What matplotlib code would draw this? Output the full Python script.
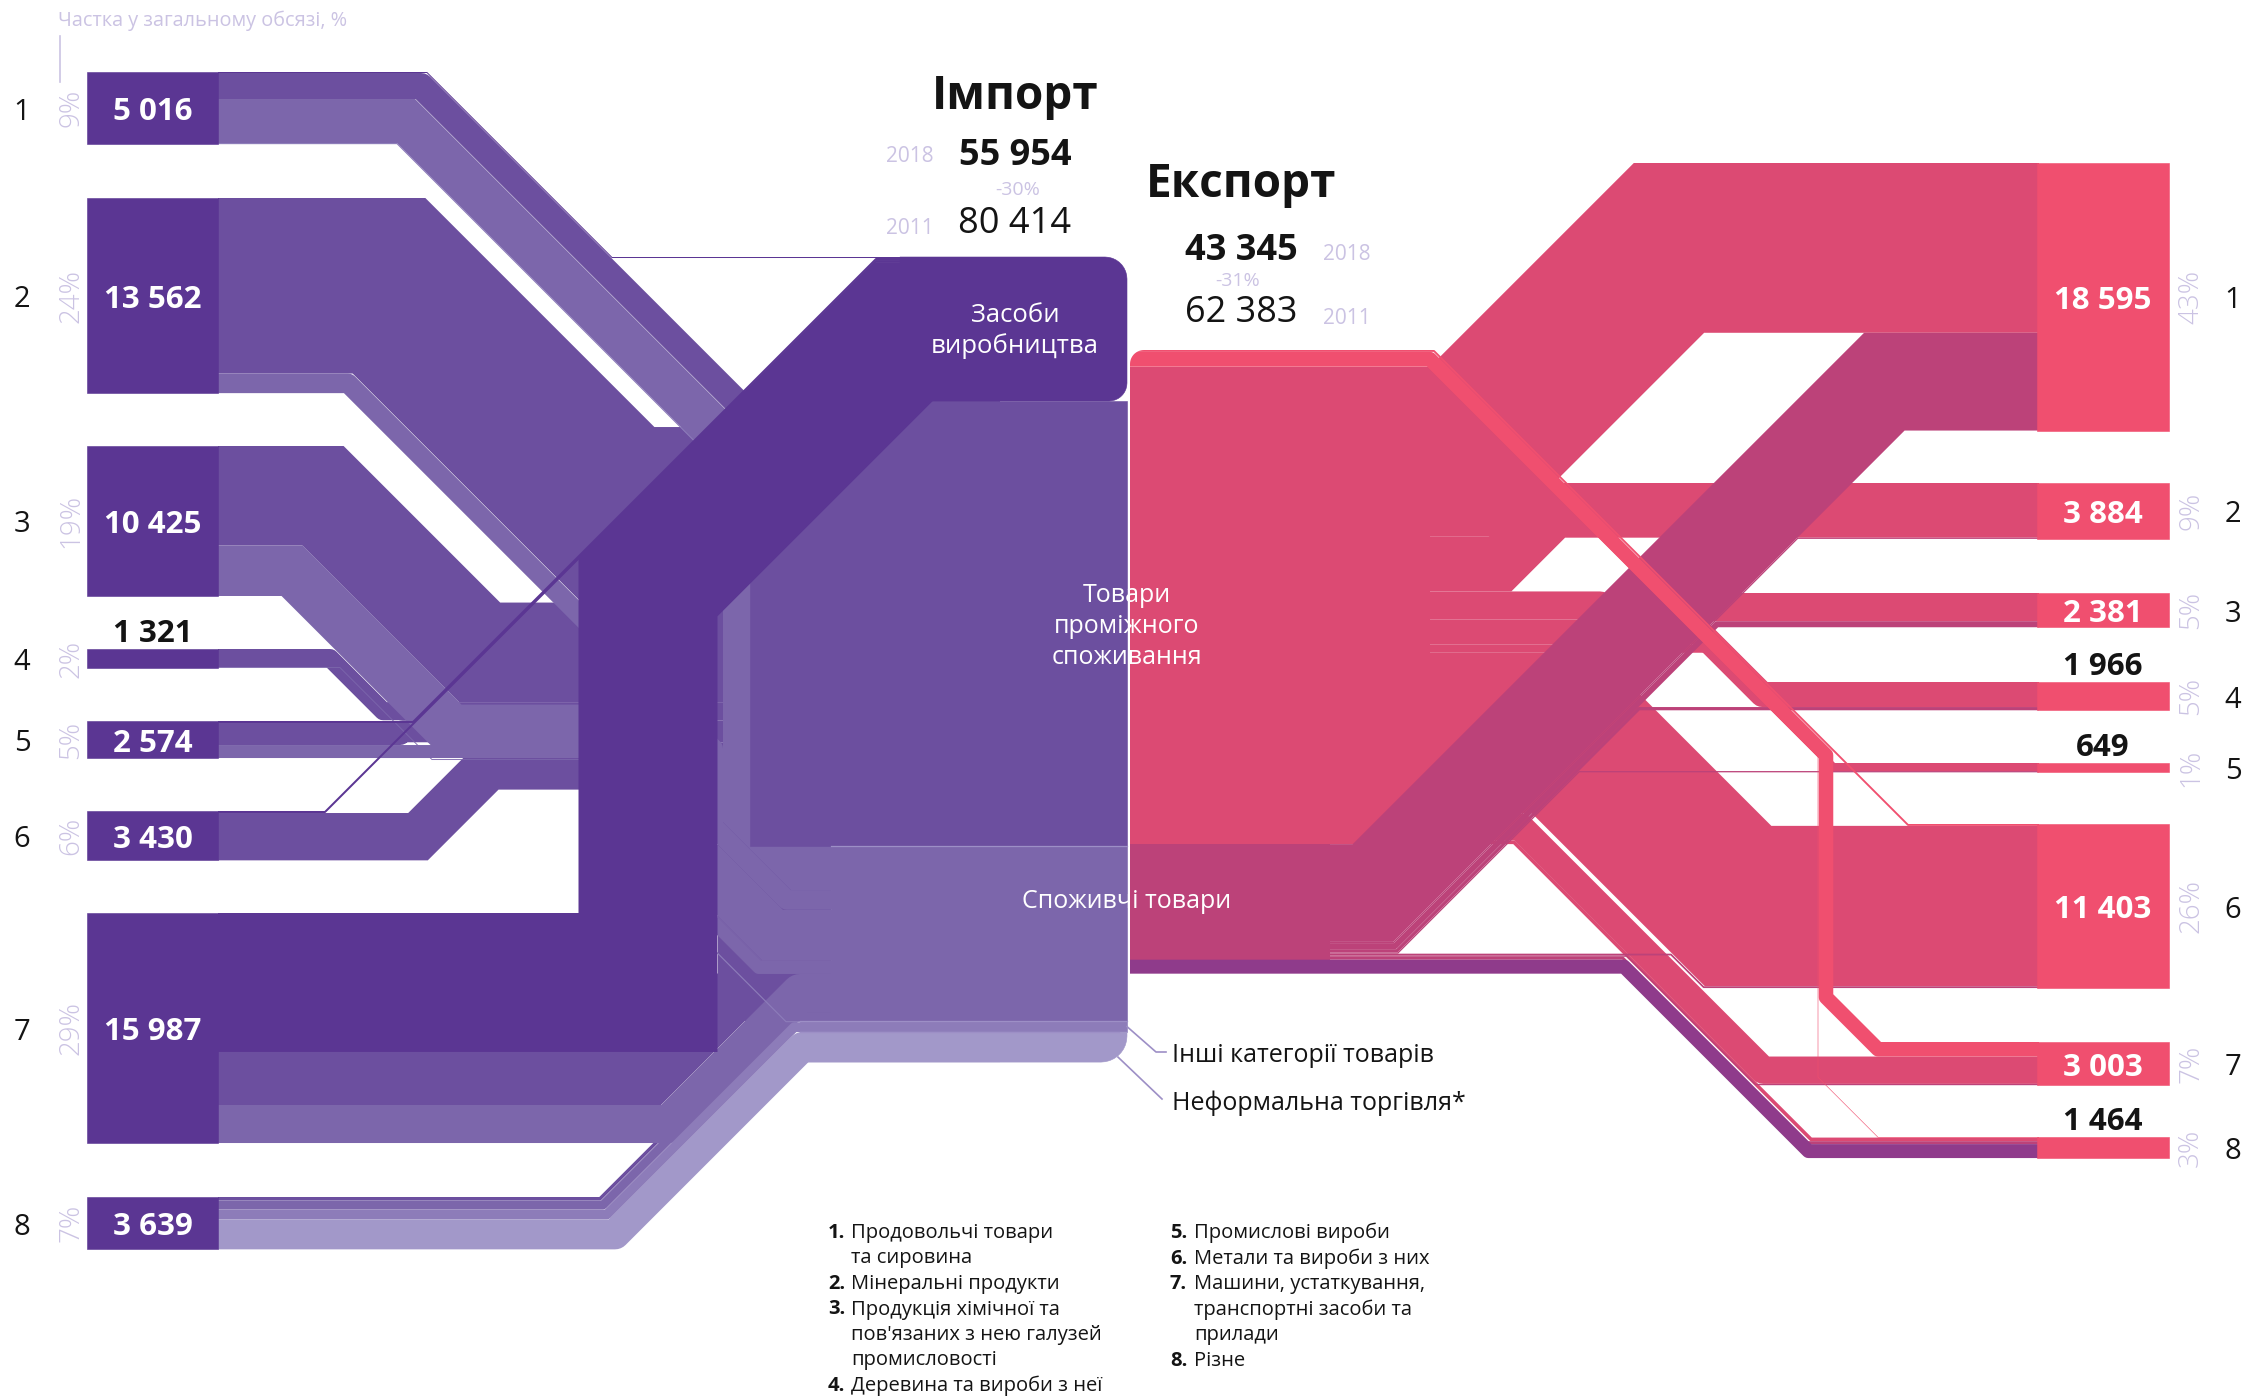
import numpy as np
import matplotlib
matplotlib.use('Agg')
import matplotlib.pyplot as plt
from matplotlib.patches import Polygon

plt.rcParams['font.family'] = ['Open Sans', 'DejaVu Sans']

# ---------------- data ----------------
categories = ['1', '2', '3', '4', '5', '6', '7', '8']
legend_items = [
    ('1.', ['Продовольчі товари', 'та сировина']),
    ('2.', ['Мінеральні продукти']),
    ('3.', ['Продукція хімічної та', "пов'язаних з нею галузей", 'промисловості']),
    ('4.', ['Деревина та вироби з неї']),
    ('5.', ['Промислові вироби']),
    ('6.', ['Метали та вироби з них']),
    ('7.', ['Машини, устаткування,', 'транспортні засоби та', 'прилади']),
    ('8.', ['Різне']),
]
group_labels = ['Засоби\nвиробництва', 'Товари\nпроміжного\nспоживання', 'Споживчі товари',
                'Інші категорії товарів', 'Неформальна торгівля*']

import_totals = [5016, 13562, 10425, 1321, 2574, 3430, 15987, 3639]
export_totals = [18595, 3884, 2381, 1966, 649, 11403, 3003, 1464]

# import: category -> BEC group
imp_capital      = [70, 0, 0, 0, 140, 140, 9660, 0]
imp_intermediate = [1807, 12200, 6920, 1260, 1530, 3290, 3684, 240]
imp_consumer     = [3058, 1362, 3505, 61, 904, 0, 2643, 630]
imp_other        = [81, 0, 0, 0, 0, 0, 0, 684]
imp_informal     = [0, 0, 0, 0, 0, 0, 0, 2085]

# export: BEC group -> category
exp_capital      = [0, 0, 0, 0, 0, 130, 1010, 40]
exp_intermediate = [11800, 3800, 1961, 1740, 560, 11150, 1900, 250]
exp_consumer     = [6795, 84, 420, 226, 89, 123, 93, 204]
exp_other        = [0, 0, 0, 0, 0, 0, 0, 970]

import_2018, import_2011 = 55954, 80414
export_2018, export_2011 = 43345, 62383
year_labels = ['2018', '2011']

# ---------------- layout / style ----------------
W, H = 2266, 1396
K = 1 / 69.5                      # px per unit
LB0, LB1 = 87, 218                # left bars
RB0, RB1 = 2037, 2169             # right bars
left_tops = [72, 198, 446, 649, 721, 811, 913, 1197]
right_tops = [163, 483, 593, 682, 763, 824, 1042, 1137]
IMP_TOP, EXP_TOP = 257, 350
NODE_R, EXP_X0, IMP_END = 1127, 1130, 1000
DY = 4                            # text vertical nudge

imp_cols = ['#5b3693', '#6c4f9f', '#7c66ab', '#8d7cb9', '#a298c9']
exp_cols = ['#f04f6f', '#dc4a73', '#bc4279', '#8f3b8b']
BAR_L, BAR_R = '#5b3693', '#f04f6f'
LAV = '#cbc3e3'
INK = '#141414'

fig = plt.figure(figsize=(W / 100, H / 100), dpi=100)
ax = fig.add_axes([0, 0, 1, 1])
ax.set_xlim(0, W)
ax.set_ylim(H, 0)
ax.axis('off')


def build_route(x0, y0, x1, y1, ops):
    pts = [(x0, y0)]
    x, y = x0, y0
    for op in ops:
        k = op[0]
        if k == 'h':
            x = op[1]
        elif k == 'd':
            s = np.sign(y1 - y)
            y = y + s * abs(op[1] - x)
            x = op[1]
        elif k == 'v':
            s = np.sign(y1 - y)
            y = y1 - s * op[1]
        elif k == 'dt':
            x = x + abs(y1 - y)
            y = y1
        pts.append((x, y))
    pts.append((x1, y1))
    out = [pts[0]]
    for p in pts[1:]:
        if abs(p[0] - out[-1][0]) > 1e-6 or abs(p[1] - out[-1][1]) > 1e-6:
            out.append(p)
    return out


def px_to_pt(w):
    # width in data units -> line width in points (data units are pixels here)
    p0 = ax.transData.transform((0, 0))
    p1 = ax.transData.transform((0, w))
    return abs(p1[1] - p0[1]) * 72 / fig.dpi


def draw_flow(pts, w, color, z):
    if w <= 0:
        return
    xs = [p[0] for p in pts]
    ys = [p[1] for p in pts]
    ax.plot(xs, ys, color=color, lw=px_to_pt(w), solid_capstyle='butt',
            solid_joinstyle='round' if w < 40 else 'miter', zorder=z)


def rrect(x0, y0, x1, y1, rtl=0, rtr=0, rbr=0, rbl=0, n=10):
    pts = []

    def arc(cx, cy, r, a0, a1):
        for a in np.linspace(np.radians(a0), np.radians(a1), n):
            pts.append((cx + r * np.cos(a), cy + r * np.sin(a)))
    if rtl: arc(x0 + rtl, y0 + rtl, rtl, 180, 270)
    else: pts.append((x0, y0))
    if rtr: arc(x1 - rtr, y0 + rtr, rtr, 270, 360)
    else: pts.append((x1, y0))
    if rbr: arc(x1 - rbr, y1 - rbr, rbr, 0, 90)
    else: pts.append((x1, y1))
    if rbl: arc(x0 + rbl, y1 - rbl, rbl, 90, 180)
    else: pts.append((x0, y1))
    return np.array(pts)


def block(x0, y0, x1, y1, color, z, **r):
    ax.add_patch(Polygon(rrect(x0, y0, x1, y1, **r), closed=True, fc=color, ec=color, lw=0.4, zorder=z))


# ================= IMPORT =================
imp = np.array([imp_capital, imp_intermediate, imp_consumer, imp_other, imp_informal], float)
ng = imp.shape[0]
src = np.zeros_like(imp)
for c in range(8):
    y = left_tops[c]
    for g in range(ng):
        src[g, c] = y
        y += imp[g, c] * K
tgt = np.zeros_like(imp)
gtop, gbot = [], []
y = IMP_TOP
for g in range(ng):
    gtop.append(y)
    for c in range(8):
        tgt[g, c] = y
        y += imp[g, c] * K
    gbot.append(y)

imp_routes = {
    (0, 0): [('h', 427), ('dt',)],
    (0, 4): [('h', 413), ('dt',)],
    (0, 5): [('h', 325), ('dt',)],
    (0, 6): [('h', 648), ('v', 256), ('dt',)],
    (1, 0): [('h', 421), ('dt',)],
    (1, 1): [('h', 389), ('dt',)],
    (1, 2): [('h', 323), ('dt',)],
    (1, 3): [('h', 330), ('dt',)],
    (1, 4): [('h', 400), ('dt',)],
    (1, 5): [('h', 418), ('dt',)],
    (1, 6): [('h', 650), ('d', 745), ('v', 40), ('dt',)],
    (1, 7): [('h', 600), ('dt',)],
    (2, 6): [('h', 669), ('dt',)],
    (2, 7): [('h', 603), ('dt',)],
    (3, 0): [('h', 397), ('d', 706), ('v', 80), ('dt',)],
    (3, 7): [('h', 607), ('dt',)],
    (4, 7): [('h', 615), ('dt',)],
}
# consumer bundle descending through a vertical strip
approach = {0: [('h', 406), ('d', None)], 1: [('h', 348), ('d', None)],
            2: [('h', 292), ('d', 451), ('h', None)], 3: [('h', 340), ('d', 432), ('h', None)],
            4: [('h', None)]}
xv, b = 745.0, None
XE0 = 800.0
prev_w = None
for c in range(5):
    w = imp[2, c] * K
    cc = tgt[2, c] + w / 2
    if c == 0:
        b = cc - XE0
    else:
        xv -= (prev_w + w) / 2
        b += (prev_w + w) / 2 * np.sqrt(2)
    d2 = (cc - b) - xv
    ops = [(o[0], xv if o[1] is None else o[1]) for o in approach[c]]
    ops += [('v', d2), ('dt',)]
    imp_routes[(2, c)] = ops
    prev_w = w

# body of the node where the bundles meet (behind all flows)
ax.add_patch(Polygon(rrect(718, gtop[2] - 60, 831, gbot[2]), closed=True,
                     fc=imp_cols[1], ec='none', zorder=0.5))

zmap = {0: 6, 1: 1, 2: 2, 3: 2.5, 4: 2.5}
for (g, c), ops in imp_routes.items():
    w = imp[g, c] * K
    if w <= 0:
        continue
    y0 = src[g, c] + w / 2
    y1 = tgt[g, c] + w / 2
    pts = build_route(LB1, y0, IMP_END, y1, ops)
    draw_flow(pts, w, imp_cols[g], zmap[g])

# group blocks of the import node
block(750, gtop[1], NODE_R, gbot[1], imp_cols[1], 3)
block(831, gtop[2], NODE_R, gbot[2], imp_cols[2], 3)
block(800, gtop[3], NODE_R, gbot[3], imp_cols[3], 3)
block(800, gtop[4], NODE_R, gbot[4], imp_cols[4], 3, rbr=26)
block(900, gtop[0], NODE_R, gbot[0], imp_cols[0], 6.5, rtr=22, rbr=18)
for g in (2, 3, 4):
    ax.plot([831 if g == 2 else 800, NODE_R - (8 if g == 4 else 0)], [gtop[g], gtop[g]],
            color='#9d8fc6', lw=0.9, zorder=3.2)

# left bars and labels
imp_total = sum(import_totals)
for c in range(8):
    hgt = import_totals[c] * K
    top = left_tops[c]
    block(LB0, top, LB1, top + hgt, BAR_L, 7)
    lab = f"{import_totals[c]:,}".replace(',', ' ')
    if hgt < 30:
        ax.text((LB0 + LB1) / 2, top - 19 + DY, lab, ha='center', va='center', fontsize=22.5,
                fontweight='bold', color=INK, zorder=8)
    else:
        ax.text((LB0 + LB1) / 2, top + hgt / 2 + DY, lab, ha='center', va='center', fontsize=22.5,
                fontweight='bold', color='white', zorder=8)
    ax.text(22, top + hgt / 2 + DY, categories[c], ha='center', va='center', fontsize=21, color=INK)
    ax.text(71, top + hgt / 2, f"{round(import_totals[c] / imp_total * 100)}%", ha='center', va='center',
            fontsize=20, color=LAV, rotation=90, fontweight='light')

# ================= EXPORT =================
exp = np.array([exp_capital, exp_intermediate, exp_consumer, exp_other], float)
ne = exp.shape[0]
esrc = np.zeros_like(exp)
etop, ebot = [], []
y = EXP_TOP
for g in range(ne):
    etop.append(y)
    for c in range(8):
        esrc[g, c] = y
        y += exp[g, c] * K
    ebot.append(y)
etgt = np.zeros_like(exp)
for c in range(8):
    y = right_tops[c]
    for g in range(ne):
        etgt[g, c] = y
        y += exp[g, c] * K

# solid body of the export node behind the flows (hides seams)
ax.add_patch(Polygon(rrect(EXP_X0, etop[1], 1430, ebot[1]), closed=True, fc=exp_cols[1], ec='none', zorder=0.5))
ax.add_patch(Polygon(rrect(EXP_X0, etop[2], 1330, ebot[2]), closed=True, fc=exp_cols[2], ec='none', zorder=0.5))

exp_routes = {
    (0, 5): [('h', 1434), ('dt',)],
    (0, 6): [('h', 1430), ('d', 1826), ('v', 52), ('dt',)],
    (0, 7): [('h', 1428), ('d', 1818), ('v', 60), ('dt',)],
    (1, 0): [('h', 1465), ('dt',)],
    (1, 1): [('h', 1500), ('dt',)],
    (1, 2): [('h', 1600), ('dt',)],
    (1, 3): [('h', 1700), ('dt',)],
    (1, 4): [('h', 1715), ('dt',)],
    (1, 5): [('h', 1565), ('dt',)],
    (1, 6): [('h', 1520), ('dt',)],
    (1, 7): [('h', 1514), ('dt',)],
    (2, 5): [('h', 1671), ('dt',)],
    (2, 6): [('h', 1627), ('dt',)],
    (2, 7): [('h', 1623), ('dt',)],
    (3, 7): [('h', 1624), ('dt',)],
}
xa = 1373.0
pw = None
for c in range(5):
    w = exp[2, c] * K
    if c > 0:
        xa += (pw + w) / 2 * np.tan(np.radians(22.5))
    exp_routes[(2, c)] = [('h', xa), ('dt',)]
    pw = w

ezmap = {0: 4, 1: 1, 2: 2, 3: 4}
for (g, c), ops in exp_routes.items():
    w = exp[g, c] * K
    if w <= 0:
        continue
    y0 = esrc[g, c] + w / 2
    y1 = etgt[g, c] + w / 2
    pts = build_route(EXP_X0, y0, RB0 + 2, y1, ops)
    draw_flow(pts, w, exp_cols[g], ezmap[g])

# rounded top-left corner of the export node
r = 14
corner = [(EXP_X0 - 1, EXP_TOP - 1), (EXP_X0 + r, EXP_TOP - 1)]
for a in np.linspace(np.radians(270), np.radians(180), 12):
    corner.append((EXP_X0 + r + r * np.cos(a), EXP_TOP + r + r * np.sin(a)))
corner.append((EXP_X0 - 1, EXP_TOP + r))
ax.add_patch(Polygon(corner, closed=True, fc='white', ec='none', zorder=5))

exp_total = sum(export_totals)
for c in range(8):
    hgt = export_totals[c] * K
    top = right_tops[c]
    block(RB0, top, RB1, top + hgt, BAR_R, 7)
    lab = f"{export_totals[c]:,}".replace(',', ' ')
    if hgt < 30:
        ax.text((RB0 + RB1) / 2, top - 19 + DY, lab, ha='center', va='center', fontsize=22.5,
                fontweight='bold', color=INK, zorder=8)
    else:
        ax.text((RB0 + RB1) / 2, top + hgt / 2 + DY, lab, ha='center', va='center', fontsize=22.5,
                fontweight='bold', color='white', zorder=8)
    ax.text(2233, top + hgt / 2 + DY, categories[c], ha='center', va='center', fontsize=21, color=INK)
    ax.text(2191, top + hgt / 2, f"{round(export_totals[c] / exp_total * 100)}%", ha='center', va='center',
            fontsize=20, color=LAV, rotation=90, fontweight='light')

# ================= texts =================
ax.text(58, 17 + DY, 'Частка у загальному обсязі, %', ha='left', va='center', fontsize=14.3, color=LAV)
ax.plot([60, 60], [36, 82], color=LAV, lw=1.2)

ax.text(1015, 92 + DY, 'Імпорт', ha='center', va='center', fontsize=33, fontweight='bold', color=INK)
ax.text(1241, 181 + DY, 'Експорт', ha='center', va='center', fontsize=33, fontweight='bold', color=INK)

fmt = lambda v: f"{v:,}".replace(',', ' ')
ax.text(1015, 152 + DY, fmt(import_2018), ha='center', va='center', fontsize=26, fontweight='bold', color=INK)
ax.text(1015, 220 + DY, fmt(import_2011), ha='center', va='center', fontsize=26, color=INK)
ax.text(910, 152 + DY, year_labels[0], ha='center', va='center', fontsize=15, color=LAV)
ax.text(910, 224 + DY, year_labels[1], ha='center', va='center', fontsize=15, color=LAV)
ax.text(1018, 186 + DY, f"{round((import_2018 / import_2011 - 1) * 100)}%", ha='center', va='center',
        fontsize=14, color=LAV)

ax.text(1241, 247 + DY, fmt(export_2018), ha='center', va='center', fontsize=26, fontweight='bold', color=INK)
ax.text(1241, 309 + DY, fmt(export_2011), ha='center', va='center', fontsize=26, color=INK)
ax.text(1347, 251 + DY, year_labels[0], ha='center', va='center', fontsize=15, color=LAV)
ax.text(1347, 315 + DY, year_labels[1], ha='center', va='center', fontsize=15, color=LAV)
ax.text(1238, 277 + DY, f"{round((export_2018 / export_2011 - 1) * 100)}%", ha='center', va='center',
        fontsize=14, color=LAV)

# node labels
ax.text(1015, (gtop[0] + gbot[0]) / 2 + 2, group_labels[0], ha='center', va='center', fontsize=18.5,
        color='white', zorder=9, linespacing=1.3)
ax.text(NODE_R, (gtop[1] + gbot[1]) / 2 + 3, group_labels[1], ha='center', va='center', fontsize=18,
        color='white', zorder=9, linespacing=1.3)
ax.text(NODE_R, (gtop[2] + gbot[2]) / 2 - 32, group_labels[2], ha='center', va='center', fontsize=18,
        color='white', zorder=9)

# small group callouts
oc = (gtop[3] + gbot[3]) / 2
ic = (gtop[4] + gbot[4]) / 2
ax.plot([NODE_R, 1156, 1166], [oc, 1052, 1052], color='#9d8fc6', lw=1.2, zorder=9)
ax.plot([1118, 1162], [ic + 10, 1099], color='#9d8fc6', lw=1.2, zorder=9)
ax.text(1172, 1052 + DY, group_labels[3], ha='left', va='center', fontsize=18, color=INK)
ax.text(1172, 1099 + DY, group_labels[4], ha='left', va='center', fontsize=18, color=INK)

# legend
LH = 25.5
cols = [(828, 851), (1170, 1194)]
rows = [0, 0]
for i, (num, lines) in enumerate(legend_items):
    col = 0 if i < 4 else 1
    xn, xt = cols[col]
    for j, ln in enumerate(lines):
        yy = 1230 + rows[col] * LH + 3
        if j == 0:
            ax.text(xn, yy, num, ha='left', va='center', fontsize=14.5, fontweight='bold', color=INK)
        ax.text(xt, yy, ln, ha='left', va='center', fontsize=14.5, color=INK)
        rows[col] += 1

fig.savefig('out.png', dpi=100)
